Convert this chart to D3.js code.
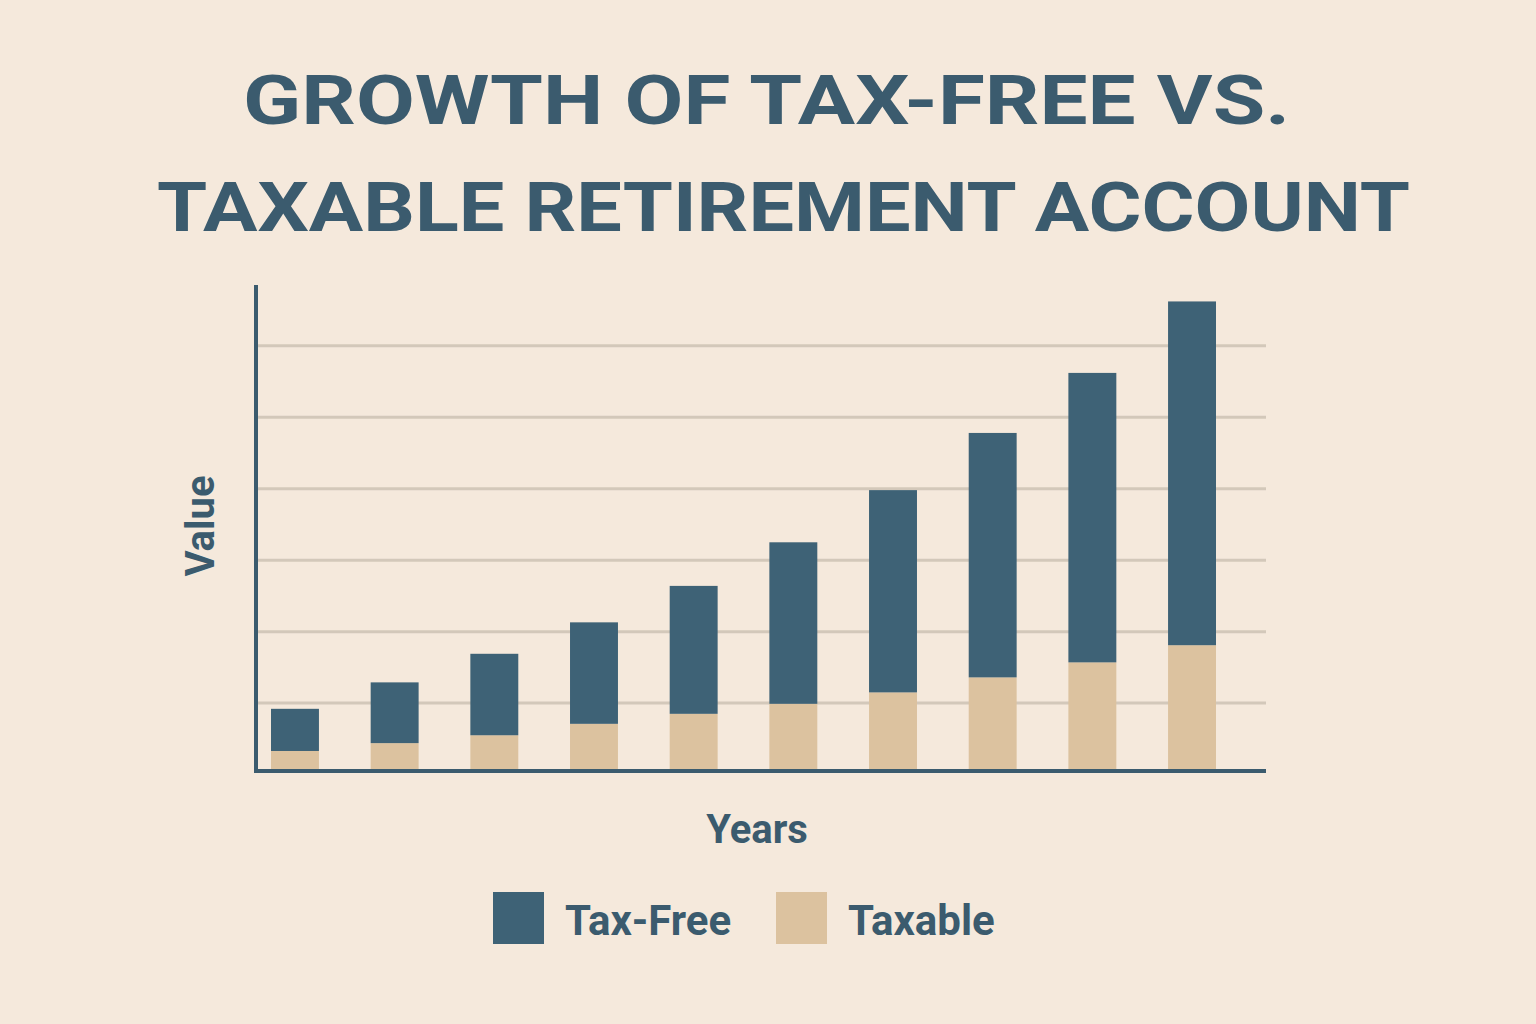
<!DOCTYPE html>
<html><head><meta charset="utf-8">
<script src="https://cdn.jsdelivr.net/npm/d3@7"></script>
<style>body{margin:0;background:#f5e9dc}svg{display:block}</style>
</head><body>
<script>
const years = ["1","2","3","4","5","6","7","8","9","10"];
const taxable = [0.28,0.39,0.50,0.66,0.80,0.94,1.10,1.31,1.52,1.76];
const taxFree = [0.59,0.85,1.14,1.42,1.79,2.26,2.83,3.42,4.05,4.81];
const gridValues = [0.95,1.95,2.95,3.95,4.95,5.95];
const seriesNames = ["Tax-Free","Taxable"];
const colors = {"Tax-Free":"#3e6276","Taxable":"#dcc29f"};
const ink = "#3b5b6e";
const font = "Roboto, 'DejaVu Sans', sans-serif";

const svg = d3.select("body").append("svg").attr("width",1536).attr("height",1024);
svg.append("rect").attr("width",1536).attr("height",1024).attr("fill","#f5e9dc");

const title = svg.append("text").attr("fill",ink).attr("font-family",font).attr("font-weight",700)
  .attr("font-size",68);
title.append("tspan").attr("x",243).attr("y",124).attr("textLength",1047).attr("lengthAdjust","spacingAndGlyphs").text("GROWTH OF TAX-FREE VS.");
title.append("tspan").attr("x",157).attr("y",231).attr("textLength",1253).attr("lengthAdjust","spacingAndGlyphs").text("TAXABLE RETIREMENT ACCOUNT");

const x = d3.scaleBand().domain(years).range([271,1216]).paddingInner(0.519).paddingOuter(0);
const y = d3.scaleLinear().domain([0,6.8]).range([771,285]);

svg.append("g").selectAll("line").data(gridValues).join("line")
  .attr("x1",256).attr("x2",1266).attr("y1",d=>y(d)).attr("y2",d=>y(d))
  .attr("stroke","#d3c8ba").attr("stroke-width",3);

const data = years.map((yr,i)=>({year:yr,"Tax-Free":taxFree[i],"Taxable":taxable[i]}));
const stack = d3.stack().keys(["Taxable","Tax-Free"])(data);
svg.append("g").selectAll("g").data(stack).join("g").attr("fill",d=>colors[d.key])
  .selectAll("rect").data(d=>d).join("rect")
  .attr("x",d=>x(d.data.year)).attr("width",x.bandwidth())
  .attr("y",d=>y(d[1])).attr("height",d=>y(d[0])-y(d[1]));

svg.append("line").attr("x1",256).attr("x2",256).attr("y1",y(6.8)).attr("y2",773).attr("stroke",ink).attr("stroke-width",4);
svg.append("line").attr("x1",254).attr("x2",1266).attr("y1",771).attr("y2",771).attr("stroke",ink).attr("stroke-width",4);

svg.append("text").attr("x",757).attr("y",843).attr("text-anchor","middle").attr("fill",ink)
  .attr("font-family",font).attr("font-weight",700).attr("font-size",40).text("Years");
svg.append("text").attr("transform","translate(214,526) rotate(-90)").attr("text-anchor","middle").attr("fill",ink)
  .attr("font-family",font).attr("font-weight",700).attr("font-size",40).text("Value");

const lx = [493,776];
const lg = svg.append("g").selectAll("g").data(seriesNames).join("g")
  .attr("transform",(d,i)=>`translate(${lx[i]},892)`);
lg.append("rect").attr("width",51).attr("height",52).attr("fill",d=>colors[d]);
lg.append("text").attr("x",72).attr("y",43).attr("fill",ink).attr("font-family",font)
  .attr("font-weight",700).attr("font-size",42).text(d=>d);
</script>
</body></html>
